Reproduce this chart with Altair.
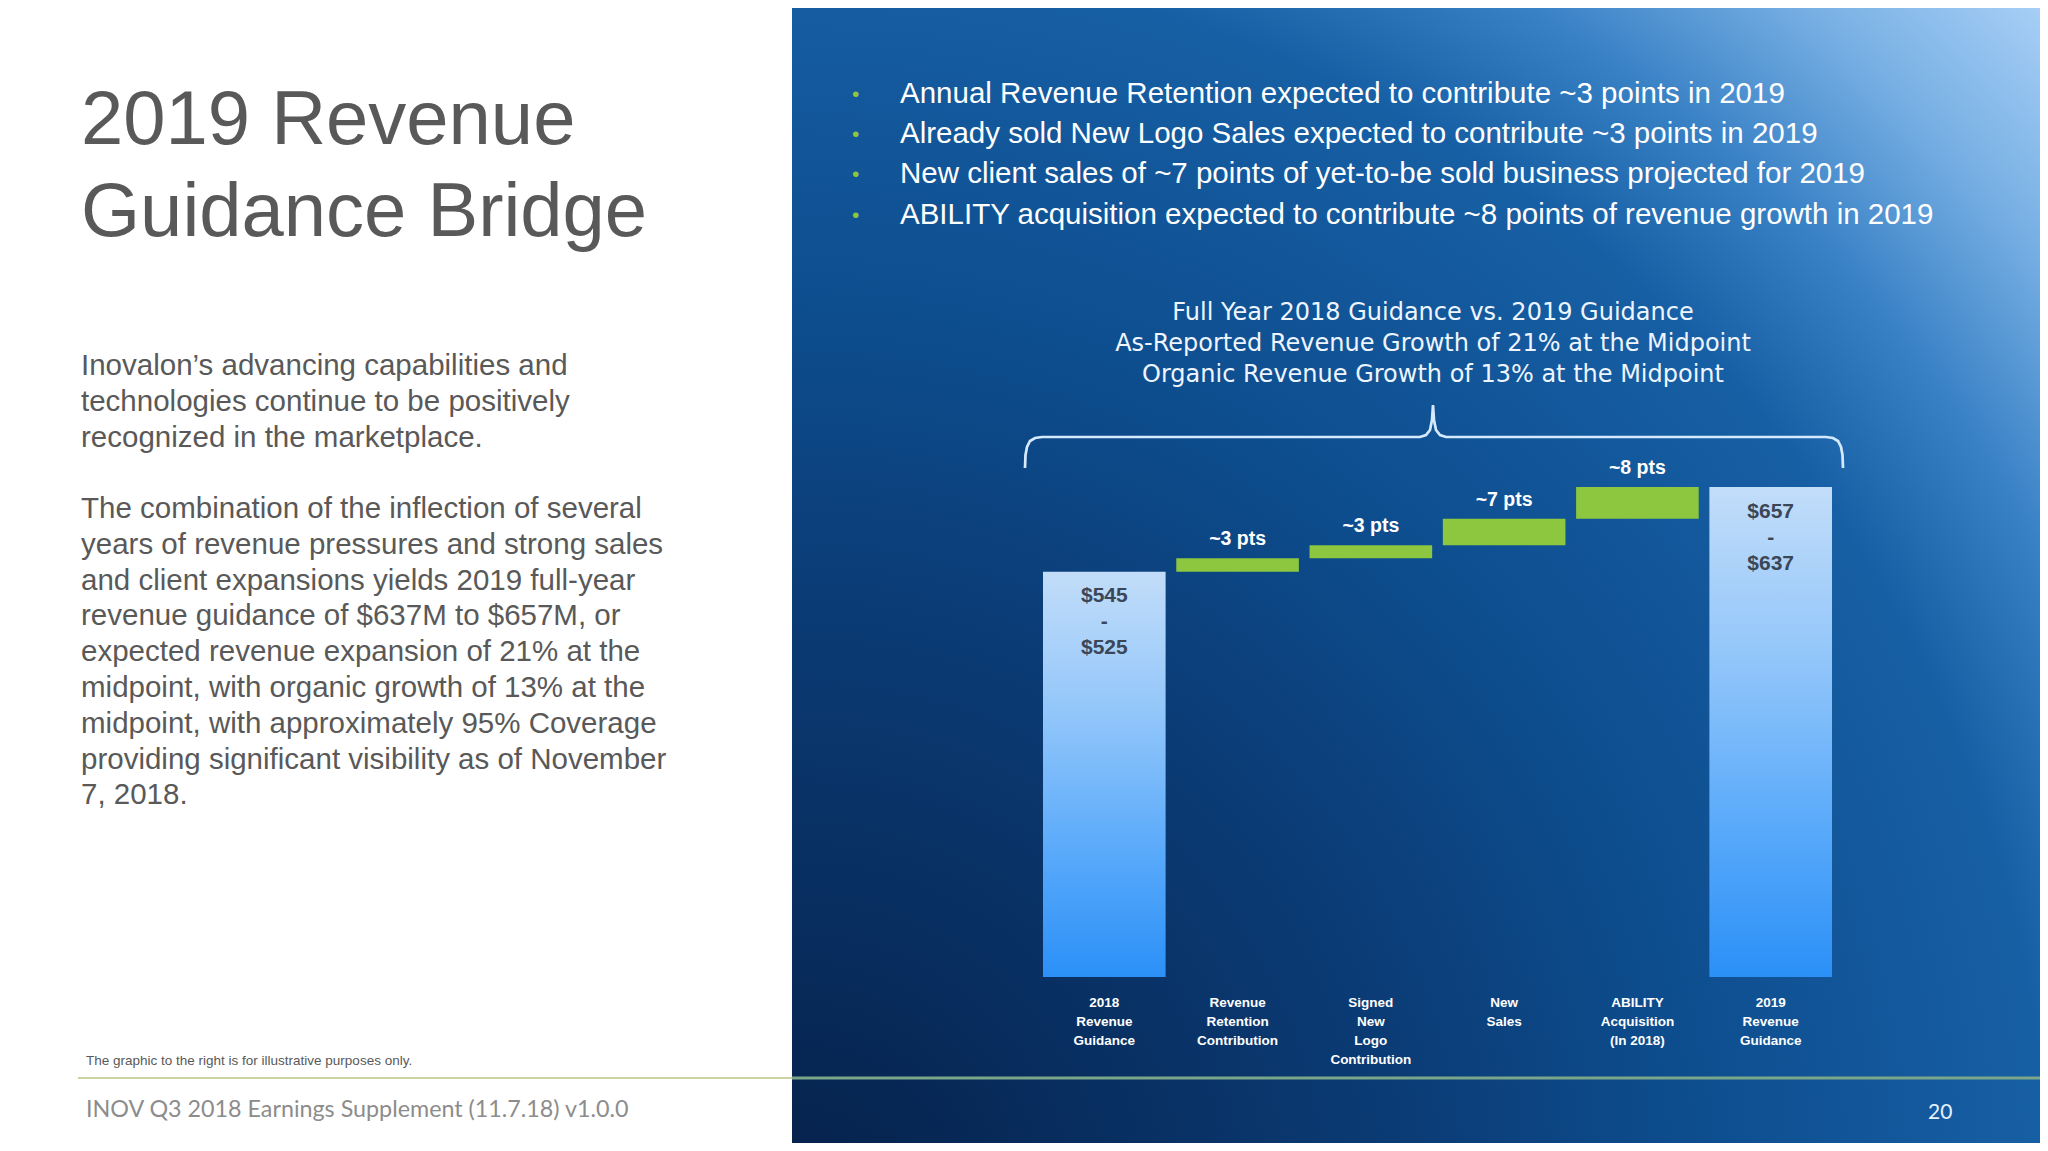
import altair as alt
import pandas as pd

OFF = 8  # page margin: chart pixel = reference pixel - 8

# ---------------- text content ----------------
title_lines = ["2019 Revenue", "Guidance Bridge"]
para1_lines = [
    "Inovalon’s advancing capabilities and",
    "technologies continue to be positively",
    "recognized in the marketplace.",
]
para2_lines = [
    "The combination of the inflection of several",
    "years of revenue pressures and strong sales",
    "and client expansions yields 2019 full-year",
    "revenue guidance of $637M to $657M, or",
    "expected revenue expansion of 21% at the",
    "midpoint, with organic growth of 13% at the",
    "midpoint, with approximately 95% Coverage",
    "providing significant visibility as of November",
    "7, 2018.",
]
footnote_text = "The graphic to the right is for illustrative purposes only."
footer_text = "INOV Q3 2018 Earnings Supplement (11.7.18) v1.0.0"
page_number = "20"
bullet_lines = [
    "Annual Revenue Retention expected to contribute ~3 points in 2019",
    "Already sold New Logo Sales expected to contribute ~3 points in 2019",
    "New client sales of ~7 points of yet-to-be sold business projected for 2019",
    "ABILITY acquisition expected to contribute ~8 points of revenue growth in 2019",
]
header_lines = [
    "Full Year 2018 Guidance vs. 2019 Guidance",
    "As-Reported Revenue Growth of 21% at the Midpoint",
    "Organic Revenue Growth of 13% at the Midpoint",
]

# ---------------- waterfall data ----------------
categories = [
    "2018 Revenue Guidance",
    "Revenue Retention Contribution",
    "Signed New Logo Contribution",
    "New Sales",
    "ABILITY Acquisition (In 2018)",
    "2019 Revenue Guidance",
]
category_labels = [
    "2018|Revenue|Guidance",
    "Revenue|Retention|Contribution",
    "Signed|New|Logo|Contribution",
    "New|Sales",
    "ABILITY|Acquisition|(In 2018)",
    "2019|Revenue|Guidance",
]
guidance_2018 = [525, 545]          # $M low / high
guidance_2019 = [637, 657]          # $M low / high
step_labels = ["~3 pts", "~3 pts", "~7 pts", "~8 pts"]
step_values = [18, 17, 35, 42]      # $M, read from the step heights

start_mid = sum(guidance_2018) / 2
end_mid = sum(guidance_2019) / 2

rows = []
rows.append(dict(cat=categories[0], lab=category_labels[0], y0=0, y1=start_mid, kind="total",
                 vlab=f"${guidance_2018[1]}|-|${guidance_2018[0]}", slab=""))
cum = start_mid
for i, (v, s) in enumerate(zip(step_values, step_labels)):
    rows.append(dict(cat=categories[i + 1], lab=category_labels[i + 1], y0=cum, y1=cum + v,
                     kind="step", vlab="", slab=s))
    cum += v
rows.append(dict(cat=categories[5], lab=category_labels[5], y0=0, y1=end_mid, kind="total",
                 vlab=f"${guidance_2019[1]}|-|${guidance_2019[0]}", slab=""))
wf = pd.DataFrame(rows)
wf["floor"] = 0

# brace decoration (reference pixels)
brace_x = [1025, 1025.5, 1027, 1030, 1035, 1042, 1420, 1426, 1430, 1432, 1433,
           1434, 1436, 1440, 1446, 1826, 1833, 1838, 1841, 1842.5, 1843]
brace_y = [468, 455, 447, 441, 438, 437, 437, 435, 430, 420, 405,
           420, 430, 435, 437, 437, 438, 441, 447, 455, 468]
brace = pd.DataFrame({"i": range(len(brace_x)),
                      "bx": [v - OFF for v in brace_x],
                      "by": [v - OFF for v in brace_y]})

one = pd.DataFrame({"k": [0]})

SANS = "Liberation Sans"


def txt(lines, x, y, size, color, font=SANS, weight="normal", align="left", lh=None):
    return alt.Chart(one).mark_text(
        text=lines, fontSize=size, font=font, fontWeight=weight, color=color,
        align=align, baseline="alphabetic", lineHeight=lh if lh else size * 1.2,
    ).encode(x=alt.value(x - OFF), y=alt.value(y - OFF))


# ---------------- background ----------------
panel = alt.Chart(one).mark_rect(
    fill={
        "gradient": "radial",
        "x1": 0, "y1": 1, "r1": 0,
        "x2": 0, "y2": 1, "r2": 1.42,
        "stops": [
            {"offset": 0.0, "color": "#052049"},
            {"offset": 0.35, "color": "#0b3c76"},
            {"offset": 0.5, "color": "#0d4d8e"},
            {"offset": 0.7, "color": "#175fa4"},
            {"offset": 0.79, "color": "#3a82c6"},
            {"offset": 0.88, "color": "#78b0e4"},
            {"offset": 1.0, "color": "#b8dafc"},
        ],
    }
).encode(x=alt.value(792 - OFF), x2=alt.value(2048), y=alt.value(0), y2=alt.value(1151))

rule_left = alt.Chart(one).mark_rule(color="#cbd3a0", strokeWidth=2).encode(
    x=alt.value(78 - OFF), x2=alt.value(792 - OFF), y=alt.value(1078 - OFF))
rule_right = alt.Chart(one).mark_rule(color="#7aa68a", strokeWidth=3).encode(
    x=alt.value(792 - OFF), x2=alt.value(2048), y=alt.value(1078 - OFF))

# ---------------- texts ----------------
GRAY = "#595959"
t_title = txt(title_lines, 81, 144, 76, GRAY, lh=92)
t_p1 = txt(para1_lines, 81, 375, 29.5, GRAY, lh=36)
t_p2 = txt(para2_lines, 81, 518, 29.5, GRAY, lh=35.8)
t_note = txt([footnote_text], 86, 1065, 13.5, GRAY)
t_footer = txt([footer_text], 86, 1117, 23.3, "#8c8c8c", font="Lato")
t_page = txt([page_number], 1928, 1119, 21, "#e6f2ff", font="Lato")
t_bullets = txt(bullet_lines, 900, 103, 29.5, "#ffffff", lh=40.2)
t_dots = txt(["•"] * 4, 852, 101, 21, "#8dc63f", lh=40.2)
t_header = txt(header_lines, 1433, 320, 24, "#eef5ff", font="DejaVu Sans", align="center", lh=31)

brace_layer = alt.Chart(brace).mark_line(color="#d6eaff", strokeWidth=2.7).encode(
    x=alt.X("bx:Q", scale=None, axis=None),
    y=alt.Y("by:Q", scale=None, axis=None),
    order="i:Q",
)

# ---------------- waterfall ----------------
xs = alt.X("cat:N", sort=categories, axis=None,
           scale=alt.Scale(domain=categories, range=[1043 - OFF, 1832 - OFF],
                           paddingInner=0.08, paddingOuter=0))
yscale = alt.Scale(domain=[0, end_mid], range=[977 - OFF, 487 - OFF], nice=False, zero=False)

base = alt.Chart(wf)

totals = base.transform_filter("datum.kind == 'total'").mark_bar(
    fill={
        "gradient": "linear", "x1": 0, "y1": 0, "x2": 0, "y2": 1,
        "stops": [
            {"offset": 0.0, "color": "#c2ddf9"},
            {"offset": 0.35, "color": "#92c6fa"},
            {"offset": 0.7, "color": "#58a9fa"},
            {"offset": 1.0, "color": "#2b90f7"},
        ],
    }
).encode(x=xs, y=alt.Y("y1:Q", scale=yscale, axis=None), y2="y0:Q")

steps = base.transform_filter("datum.kind == 'step'").mark_bar(color="#8dc63f").encode(
    x=xs, y=alt.Y("y1:Q", scale=yscale, axis=None), y2="y0:Q")

value_text = base.transform_filter("datum.kind == 'total'").transform_calculate(
    lines="split(datum.vlab, '|')"
).mark_text(font=SANS, fontWeight="bold", fontSize=21, color="#3b4657",
            baseline="alphabetic", dy=30.5, lineHeight=26).encode(
    x=xs, y=alt.Y("y1:Q", scale=yscale, axis=None), text="lines:N")

step_text = base.transform_filter("datum.kind == 'step'").mark_text(
    font=SANS, fontWeight="bold", fontSize=19.5, color="#ffffff",
    baseline="alphabetic", dy=-13).encode(
    x=xs, y=alt.Y("y1:Q", scale=yscale, axis=None), text="slab:N")

cat_text = base.transform_calculate(lines="split(datum.lab, '|')").mark_text(
    font=SANS, fontWeight="bold", fontSize=13.5, color="#ffffff",
    baseline="alphabetic", dy=30, lineHeight=19).encode(
    x=xs, y=alt.Y("floor:Q", scale=yscale, axis=None), text="lines:N")

waterfall = alt.layer(totals, steps, value_text, step_text, cat_text)

chart = alt.layer(
    panel, rule_left, rule_right,
    t_title, t_p1, t_p2, t_note, t_footer, t_page,
    t_dots, t_bullets, t_header, brace_layer, waterfall,
).resolve_scale(x="independent", y="independent").properties(
    width=2032, height=1135,
    autosize=alt.AutoSizeParams(type="none"),
    padding=0,
    background="#ffffff",
).configure_view(stroke=None)

chart.save("out.html", embed_options={"renderer": "svg", "actions": False})
